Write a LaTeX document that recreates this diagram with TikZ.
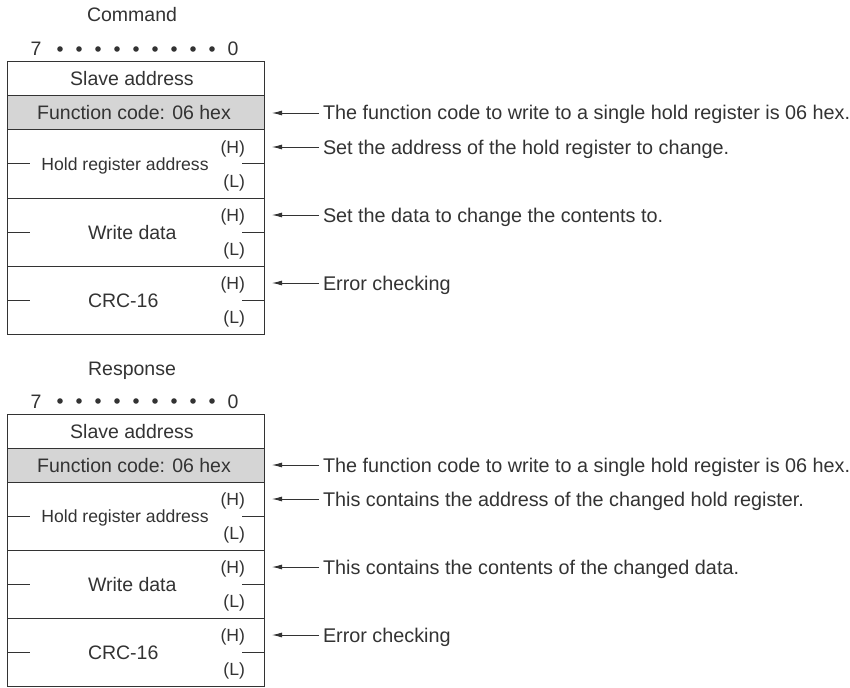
\documentclass[tikz,border=0pt]{standalone}
\usepackage{fontspec}
\setmainfont{Liberation Sans}
\usetikzlibrary{arrows.meta}

\definecolor{ink}{HTML}{333333}
\definecolor{cellgray}{HTML}{D5D5D5}

\tikzstyle{txt} = [inner sep=0pt, outer sep=0pt, text=ink, font=\fontsize{19.5}{22}\selectfont, text height=14pt, text depth=0pt]
\tikzstyle{small} = [txt, font=\fontsize{17.6}{20}\selectfont, text height=12.6pt]
\tikzstyle{cell} = [rectangle, draw=ink, line width=1pt, minimum width=257pt, minimum height=34pt, inner sep=0pt, outer sep=0pt]
\tikzstyle{dcell} = [cell, minimum height=68pt]
\tikzstyle{gcell} = [cell, fill=cellgray]
\tikzstyle{note} = [txt, anchor=west, inner xsep=4pt, font=\fontsize{19.8}{22}\selectfont]
\tikzstyle{arrow} = [draw=ink, line width=0.9pt, -{Latex[length=10pt,width=5pt]}, shorten >=8pt]
\tikzstyle{stub} = [draw=ink, line width=1pt]

\begin{document}
\begin{tikzpicture}[x=1pt, y=-1pt]
\useasboundingbox (0,0) rectangle (850,687);

% Command
\node (ctitle) [txt] at (132,15) {Command};
\node (cmsb) [txt] at (36,49) {7};
\node (clsb) [txt] at (233,49) {0};
\foreach \i in {0,...,8}
  \fill[ink] (60+19*\i,49) circle (2.8);

\node (cslave) [cell] at (135.5,79) {};
\node (cfunc) [gcell] at (135.5,113) {};
\node (chold) [dcell] at (135.5,164) {};
\node (cdata) [dcell] at (135.5,232) {};
\node (ccrc) [dcell] at (135.5,300) {};

\node (cslavet) [txt] at (132,79) {Slave address};
\node (cfunct) [txt] at (134,113) {Function code: 06 hex};
\node (choldt) [small] at (125,164) {Hold register address};
\node (cdatat) [txt, anchor=west] at (88,232) {Write data};
\node (ccrct) [txt, anchor=west] at (88,300) {CRC-16};
\foreach \row/\yh in {hold/147, data/215, crc/283} {
  \node (c\row h) [small, anchor=east] at (245,\yh) {(H)};
  \node (c\row l) [small, anchor=east] at (245,\yh+34) {(L)};
  \draw [stub] (c\row.west) -- ++(23,0);
  \draw [stub] (c\row.east) -- ++(-22,0);
}

\node (cnote1) [note] at (319,113) {The function code to write to a single hold register is 06 hex.};
\node (cnote2) [note] at (319,147) {Set the address of the hold register to change.};
\node (cnote3) [note] at (319,215) {Set the data to change the contents to.};
\node (cnote4) [note] at (319,283) {Error checking};
\draw [arrow] (cnote1.west) -- (cnote1.west -| cfunc.east);
\draw [arrow] (cnote2.west) -- (cnote2.west -| chold.east);
\draw [arrow] (cnote3.west) -- (cnote3.west -| cdata.east);
\draw [arrow] (cnote4.west) -- (cnote4.west -| ccrc.east);

% Response
\node (rtitle) [txt] at (132,368) {Response};
\node (rmsb) [txt] at (36,401) {7};
\node (rlsb) [txt] at (233,401) {0};
\foreach \i in {0,...,8}
  \fill[ink] (60+19*\i,401) circle (2.8);

\node (rslave) [cell] at (135.5,431) {};
\node (rfunc) [gcell] at (135.5,465) {};
\node (rhold) [dcell] at (135.5,516) {};
\node (rdata) [dcell] at (135.5,584) {};
\node (rcrc) [dcell] at (135.5,652) {};

\node (rslavet) [txt] at (132,431) {Slave address};
\node (rfunct) [txt] at (134,465) {Function code: 06 hex};
\node (rholdt) [small] at (125,516) {Hold register address};
\node (rdatat) [txt, anchor=west] at (88,584) {Write data};
\node (rcrct) [txt, anchor=west] at (88,652) {CRC-16};
\foreach \row/\yh in {hold/499, data/567, crc/635} {
  \node (r\row h) [small, anchor=east] at (245,\yh) {(H)};
  \node (r\row l) [small, anchor=east] at (245,\yh+34) {(L)};
  \draw [stub] (r\row.west) -- ++(23,0);
  \draw [stub] (r\row.east) -- ++(-22,0);
}

\node (rnote1) [note] at (319,465) {The function code to write to a single hold register is 06 hex.};
\node (rnote2) [note] at (319,499) {This contains the address of the changed hold register.};
\node (rnote3) [note] at (319,567) {This contains the contents of the changed data.};
\node (rnote4) [note] at (319,635) {Error checking};
\draw [arrow] (rnote1.west) -- (rnote1.west -| rfunc.east);
\draw [arrow] (rnote2.west) -- (rnote2.west -| rhold.east);
\draw [arrow] (rnote3.west) -- (rnote3.west -| rdata.east);
\draw [arrow] (rnote4.west) -- (rnote4.west -| rcrc.east);

\end{tikzpicture}
\end{document}
